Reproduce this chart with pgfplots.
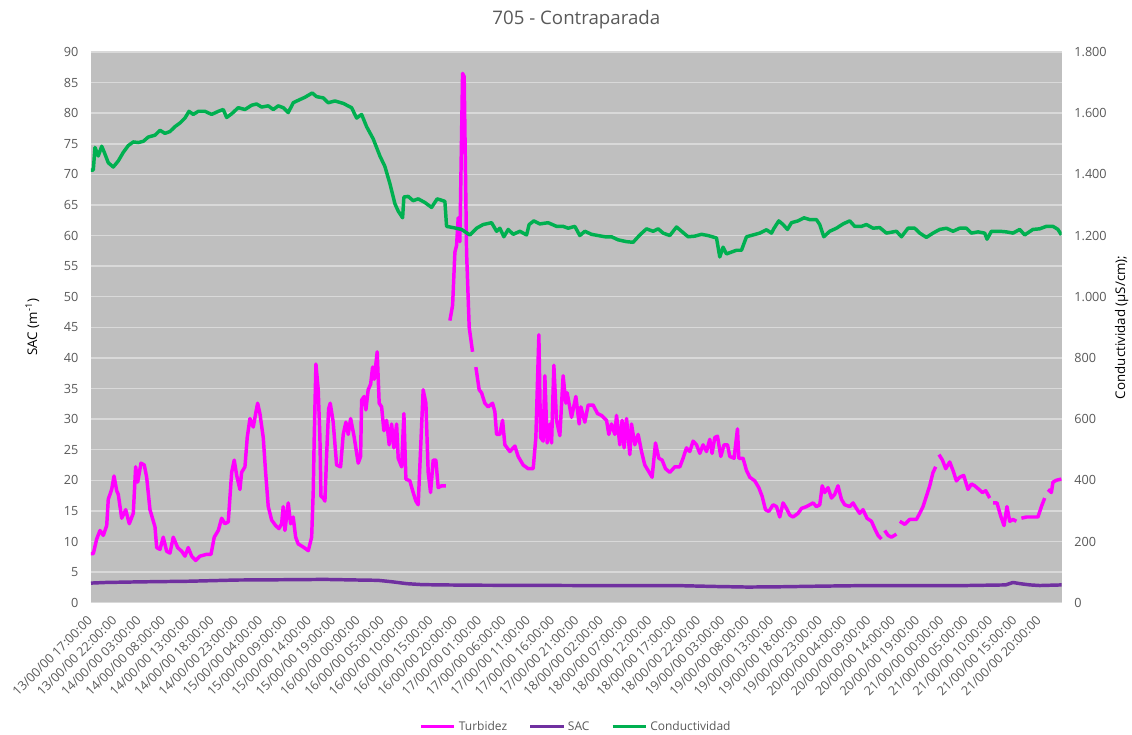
\documentclass[border=0pt]{standalone}
\usepackage{fontspec}
\setmainfont{Open Sans}
\usepackage{pgfplots}
\pgfplotsset{compat=1.18}
\definecolor{PlotGray}{HTML}{BFBFBF}
\definecolor{GridGray}{HTML}{D9D9D9}
\definecolor{TextGray}{HTML}{595959}
\definecolor{Turb}{HTML}{FF00FF}
\definecolor{SacPurple}{HTML}{7030A0}
\definecolor{CondGreen}{HTML}{00B050}

\pgfplotsset{
  base/.style={
    width=728pt, height=413pt, scale only axis,
    xmin=0, xmax=199.5,
    clip=true,
    major tick length=0pt,
    tick label style={font=\fontsize{9.5}{11}\selectfont, text=TextGray},
    /pgf/number format/assume math mode=true,
    label style={font=\fontsize{10}{12}\selectfont, text=TextGray},
  },
}

\begin{document}
\begin{tikzpicture}
\path[use as bounding box] (-68.25pt,-99pt) rectangle (780.75pt,452pt);

\begin{axis}[
  base,
  ymin=0, ymax=90, ytick distance=5,
  axis line style={draw=none},
  axis background/.style={fill=PlotGray},
  ymajorgrids, grid style={GridGray, line width=1.1pt},
  xtick={0,5,...,195},
  xticklabels={13/00/00 17:00:00, 13/00/00 22:00:00, 14/00/00 03:00:00, 14/00/00 08:00:00, 14/00/00 13:00:00, 14/00/00 18:00:00, 14/00/00 23:00:00, 15/00/00 04:00:00, 15/00/00 09:00:00, 15/00/00 14:00:00, 15/00/00 19:00:00, 16/00/00 00:00:00, 16/00/00 05:00:00, 16/00/00 10:00:00, 16/00/00 15:00:00, 16/00/00 20:00:00, 17/00/00 01:00:00, 17/00/00 06:00:00, 17/00/00 11:00:00, 17/00/00 16:00:00, 17/00/00 21:00:00, 18/00/00 02:00:00, 18/00/00 07:00:00, 18/00/00 12:00:00, 18/00/00 17:00:00, 18/00/00 22:00:00, 19/00/00 03:00:00, 19/00/00 08:00:00, 19/00/00 13:00:00, 19/00/00 18:00:00, 19/00/00 23:00:00, 20/00/00 04:00:00, 20/00/00 09:00:00, 20/00/00 14:00:00, 20/00/00 19:00:00, 21/00/00 00:00:00, 21/00/00 05:00:00, 21/00/00 10:00:00, 21/00/00 15:00:00, 21/00/00 20:00:00},
  x tick label style={font=\fontsize{9.5}{10}\selectfont, yshift=-11pt, rotate=45, anchor=east, inner sep=1pt},
  y tick label style={xshift=-6pt},
  every axis y label/.style={at={(axis description cs:0,0.5)}, anchor=center, xshift=-44pt, rotate=90},
  ylabel={SAC (m\textsuperscript{-1})},
  title={705 - Contraparada},
  title style={at={(axis description cs:0.5,1)}, anchor=center, yshift=18pt,
    font=\fontsize{14}{16}\selectfont, text=TextGray},
  unbounded coords=jump,
]
% Turbidez
\addplot[Turb, line width=2.6pt, line join=round] coordinates {
(0,8.0) (0.47,8.0) (1.17,10.4) (1.85,11.8) (2.53,11.0) (3.23,12.6) (3.55,16.9) (4.25,18.5)
(4.73,20.7) (5.28,18.3) (5.61,17.7) (6.31,13.8) (7.13,15.2) (7.87,12.9) (8.69,14.6) (9.18,22.2)
(9.60,19.7) (10.27,22.8) (10.95,22.5) (11.44,20.5) (12.12,15.2) (13.15,12.4) (13.50,9.0) (14.18,8.7)
(14.85,10.7) (15.55,8.4) (16.23,8.1) (16.91,10.7) (17.81,9.0) (18.64,8.4) (19.31,7.6) (19.99,9.0)
(20.69,7.6) (21.51,6.9) (22.40,7.6) (23.77,7.9) (24.66,7.9) (25.33,10.7) (26.16,11.8) (26.85,13.8)
(27.53,12.9) (28.21,13.2) (28.91,21.3) (29.44,23.3) (29.94,20.8) (30.61,18.5) (30.96,21.3) (31.64,22.2)
(32.11,27.0) (32.67,30.1) (33.35,28.7) (33.84,30.9) (34.25,32.6) (34.72,30.9) (35.40,27.0) (35.89,21.3)
(36.43,15.7) (37.13,13.5) (37.95,12.6) (38.63,12.1) (39.18,12.9) (39.51,15.7) (39.86,11.8) (40.54,16.3)
(41.03,12.9) (41.56,14.0) (42.06,10.7) (42.59,9.6) (43.62,9.1) (44.65,8.5) (45.35,10.7) (45.67,18.0)
(45.88,27.0) (46.23,39.0) (46.70,34.8) (47.05,27.0) (47.26,17.4) (47.73,17.1) (48.08,16.6) (48.43,24.2)
(48.84,31.7) (49.17,32.6) (49.78,29.5) (50.48,22.5) (51.30,22.2) (51.84,27.5) (52.39,29.5) (52.87,27.5)
(53.36,30.1) (54.04,27.3) (54.92,22.8) (55.41,23.9) (55.62,33.1) (56.15,33.7) (56.50,31.5) (56.97,34.8)
(57.47,35.7) (57.88,38.5) (58.21,36.5) (58.82,41.0) (59.23,32.6) (59.73,32.0) (60.20,28.1) (60.75,29.8)
(61.29,25.8) (61.78,29.2) (62.25,25.3) (62.81,29.2) (63.14,23.6) (63.84,22.2) (64.31,30.9) (64.72,20.2)
(65.54,19.9) (66.22,18.0) (66.77,16.6) (67.25,16.0) (67.60,22.5) (68.27,34.8) (68.83,32.6) (69.30,21.3)
(69.79,18.0) (70.33,23.3) (70.88,23.3) (71.36,18.8) (72.05,19.1) (72.94,19.1)
(73.3,nan)
(73.76,46.1) (74.32,48.6) (74.79,57.3) (75.14,58.4) (75.47,62.9) (75.81,59.0) (76.37,86.5) (76.70,86.0)
(77.19,57.3) (77.73,45.0) (78.42,41.0)
(78.8,nan)
(79.10,38.5) (79.78,34.8) (80.27,34.3) (80.95,32.6) (81.63,32.0) (82.53,32.6) (83.01,31.2) (83.36,27.5)
(84.03,27.5) (84.59,29.8) (85.06,25.8) (86.09,24.7) (87.12,25.6) (87.79,23.9) (88.82,22.5) (89.85,21.9)
(90.88,21.9) (91.43,27.0) (92.05,43.8) (92.40,27.0) (92.93,26.4) (93.28,37.1) (93.75,26.1) (94.31,29.2)
(94.66,26.1) (95.13,38.8) (95.68,29.8) (96.36,27.3) (97.04,37.1) (97.60,32.6) (97.86,34.3) (98.77,30.3)
(99.65,33.7) (100.33,29.2) (100.68,32.0) (101.50,29.5) (102.18,32.3) (103.20,32.3) (104.11,30.9) (104.93,30.6)
(105.96,29.8) (106.43,27.5) (106.98,29.2) (107.66,27.5) (108.01,30.6) (108.69,25.8) (109.16,29.8) (109.57,25.3)
(110.07,30.1) (110.74,24.2) (111.09,29.2) (111.77,25.8) (112.45,27.5) (113.15,24.7) (113.82,22.5) (114.50,21.6)
(115.32,20.5) (116.02,26.1) (116.70,23.6) (117.38,23.3) (118.08,21.9) (118.96,21.3) (119.99,22.2) (121.02,22.2)
(121.69,23.6) (122.39,25.3) (123.07,24.7) (123.75,26.4) (124.45,25.8) (125.13,24.4) (125.80,25.8) (126.50,24.7)
(127.18,26.7) (127.65,24.4) (128.21,27.0) (128.76,27.2) (129.44,23.9) (130.12,25.8) (130.82,25.8) (131.29,23.9)
(132.17,23.6) (132.87,28.4) (133.14,23.6) (134.02,23.6) (134.72,21.6) (135.40,20.5) (136.43,19.9) (137.25,18.8)
(137.93,17.4) (138.63,15.2) (139.30,14.9) (140.19,16.0) (140.89,15.7) (141.56,14.0) (142.24,16.3) (142.94,15.4)
(143.62,14.3) (144.29,14.0) (145.32,14.6) (146.02,15.4) (147.05,15.7) (147.73,16.0) (148.41,16.3) (149.10,15.7)
(149.78,16.0) (150.29,19.1) (150.78,18.0) (151.48,18.8) (152.18,17.1) (152.86,17.7) (153.53,19.1) (154.23,16.9)
(154.91,16.0) (155.94,15.7) (156.62,16.3) (157.31,15.4) (157.99,14.6) (158.67,15.2) (159.49,13.8) (160.40,13.3)
(161.08,12.1) (161.76,11.0) (162.46,10.4)
(162.8,nan)
(163.13,11.8) (163.81,11.0) (164.51,10.7) (165.54,11.2)
(165.9,nan)
(166.22,13.3) (167.25,12.8) (168.27,13.6) (169.65,13.6) (170.33,14.6) (171.00,15.7) (171.70,17.4) (172.38,19.1)
(173.06,21.3) (173.62,22.2)
(173.95,nan)
(174.29,24.2) (174.99,23.3) (175.67,21.9) (176.49,23.0) (177.17,21.6) (177.87,19.9) (178.54,20.5) (179.36,20.8)
(180.25,18.5) (180.95,19.4) (181.63,19.1) (182.51,18.5) (183.21,18.0) (183.89,18.3) (184.71,17.1)
(185.05,nan)
(185.39,16.3) (186.21,16.3) (186.91,14.3) (187.65,12.6) (188.26,15.7) (188.82,13.3) (189.50,13.6) (190.19,13.3)
(190.7,nan)
(191.22,13.8) (192.25,14.0) (193.60,14.0) (194.63,14.0) (195.33,15.7) (196.01,17.1)
(196.35,nan)
(196.69,18.5) (197.38,18.0) (197.71,19.7) (198.41,20.0) (199.44,20.2)
};
% SAC
\addplot[SacPurple, line width=2.6pt, line join=round] coordinates {
(0,3.2) (3,3.3) (10,3.4) (20,3.5) (25,3.6) (30,3.7) (40,3.75) (48,3.8) (55,3.7)
(59,3.65) (62,3.4) (65,3.1) (68,2.95) (72,2.9) (80,2.85) (100,2.8) (120,2.8)
(128,2.65) (135,2.55) (142,2.6) (150,2.7) (160,2.8) (180,2.8) (188,2.9)
(189.5,3.3) (191,3.1) (193,2.9) (195,2.8) (199.5,2.9)
};
\end{axis}

\begin{axis}[
  base,
  ymin=0, ymax=1800, ytick distance=200,
  axis x line=none,
  axis y line*=right,
  axis line style={draw=none},
  /pgf/number format/.cd, 1000 sep={.}, /pgfplots/.cd,
  y tick label style={xshift=6pt},
  every axis y label/.style={at={(axis description cs:1,0.5)}, anchor=center, xshift=45pt, rotate=90},
  ylabel={Conductividad (µS/cm);},
  legend style={at={(axis description cs:0.5,0)}, anchor=center, yshift=-93pt,
    draw=none, fill=none, font=\fontsize{9}{11}\selectfont, text=TextGray,
    /tikz/every even column/.append style={column sep=14pt}},
  legend columns=3,
  legend image code/.code={\draw[#1] (0pt,0pt) -- (25pt,0pt);},
]
\addlegendimage{Turb, line width=2.6pt}
\addlegendentry{Turbidez}
\addlegendimage{SacPurple, line width=2.6pt}
\addlegendentry{SAC}
% Conductividad
\addplot[CondGreen, line width=2.6pt, line join=round] coordinates {
(0,1414) (0.47,1414) (0.82,1488) (1.50,1460) (2.20,1492) (2.73,1472) (3.55,1438) (4.58,1424)
(5.61,1444) (6.64,1472) (7.66,1494) (8.69,1506) (9.72,1504) (10.75,1508) (11.77,1522) (13.15,1528)
(14.18,1544) (15.20,1534) (16.23,1540) (17.26,1556) (18.29,1568) (19.31,1584) (20.14,1606) (21.02,1596)
(22.05,1606) (23.42,1606) (24.80,1596) (26.16,1606) (27.18,1612) (27.88,1586) (28.91,1598) (30.26,1618)
(31.64,1612) (33.02,1626) (34.04,1630) (35.07,1620) (36.43,1624) (37.46,1612) (38.48,1624) (39.51,1618)
(40.54,1602) (41.56,1634) (42.59,1642) (43.97,1652) (45.47,1666) (46.37,1654) (47.73,1650) (48.76,1634)
(50.13,1640) (51.84,1632) (53.56,1618) (54.59,1584) (55.62,1596) (56.64,1556) (58.00,1516) (59.38,1460)
(60.40,1426) (61.43,1370) (62.46,1304) (63.14,1280) (64.04,1258) (64.31,1326) (65.19,1328) (66.22,1314)
(67.25,1320) (68.62,1308) (70.00,1292) (71.15,1320) (72.73,1312) (73.08,1230) (74.44,1226) (76.16,1220)
(77.87,1202) (79.25,1224) (80.60,1236) (82.33,1242) (83.36,1214) (84.03,1224) (84.86,1196) (85.74,1220)
(86.77,1204) (88.14,1214) (89.52,1202) (90.05,1236) (91.02,1248) (92.25,1238) (93.96,1242) (95.68,1230)
(97.04,1230) (98.07,1224) (99.44,1230) (100.47,1200) (101.50,1214) (102.87,1204) (104.23,1200) (105.61,1196)
(106.98,1196) (108.34,1186) (110.07,1180) (111.42,1178) (112.80,1202) (114.17,1222) (115.53,1214) (116.56,1222)
(117.59,1208) (118.96,1200) (120.34,1228) (121.37,1214) (122.72,1196) (124.10,1198) (125.48,1204) (126.83,1200)
(128.56,1192) (129.23,1130) (129.91,1162) (130.61,1140) (131.64,1146) (132.67,1152) (133.69,1152) (134.72,1196)
(136.08,1202) (137.46,1208) (138.83,1219) (139.86,1208) (140.39,1224) (141.36,1248) (142.24,1236) (143.14,1220)
(143.97,1242) (145.32,1248) (146.56,1258) (147.73,1252) (149.10,1252) (149.78,1236) (150.60,1196) (151.83,1214)
(153.21,1224) (154.57,1238) (155.94,1248) (156.97,1230) (158.35,1230) (159.37,1236) (160.73,1224) (162.11,1226)
(163.48,1208) (165.54,1214) (166.57,1196) (167.92,1224) (169.30,1224) (170.33,1208) (171.70,1194) (173.06,1208)
(174.43,1220) (175.81,1224) (177.17,1214) (178.54,1224) (179.92,1224) (180.95,1208) (182.31,1212) (183.68,1208)
(184.16,1188) (185.06,1214) (186.76,1214) (188.14,1212) (189.50,1208) (190.87,1220) (191.90,1202) (193.60,1220)
(194.98,1222) (196.35,1230) (197.71,1230) (198.74,1220) (199.44,1202)
};
\addlegendentry{Conductividad}
\end{axis}
\end{tikzpicture}
\end{document}
